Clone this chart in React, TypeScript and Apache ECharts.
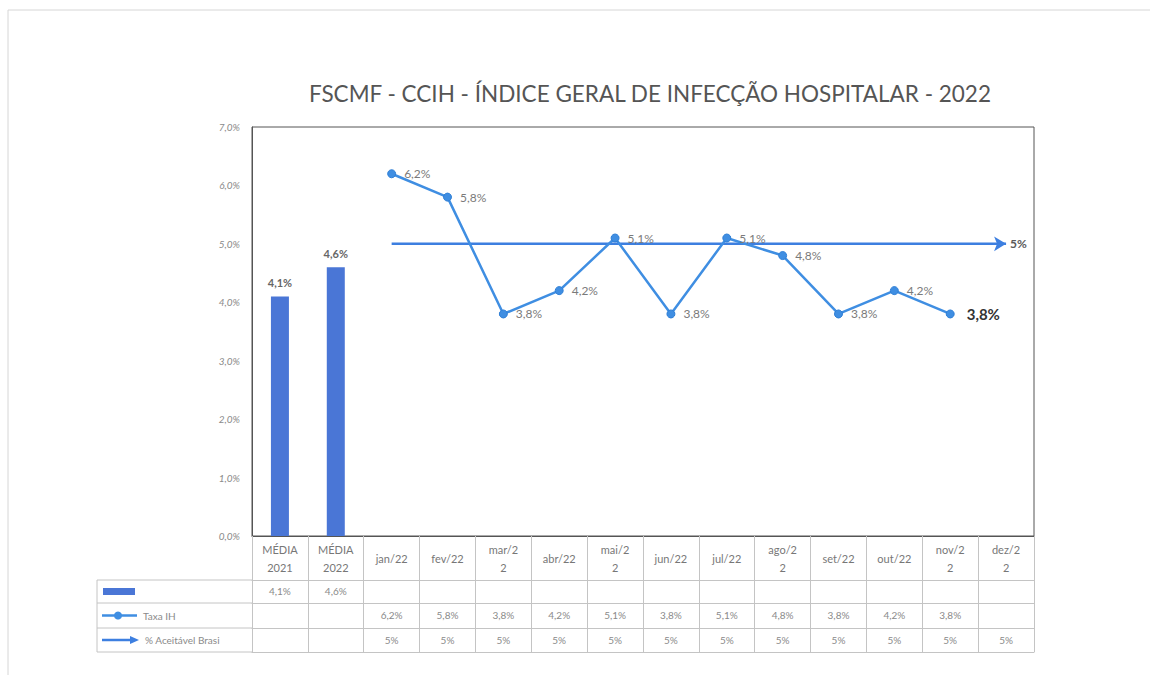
import React, { useEffect, useRef } from "react";
import * as echarts from "echarts";

const TITLE = "FSCMF - CCIH - ÍNDICE GERAL DE INFECÇÃO HOSPITALAR - 2022";
const categories = [
  "MÉDIA\n2021", "MÉDIA\n2022", "jan/22", "fev/22", "mar/2\n2", "abr/22", "mai/2\n2",
  "jun/22", "jul/22", "ago/2\n2", "set/22", "out/22", "nov/2\n2", "dez/2\n2",
];
const mediaValues: (number | null)[] = [4.1, 4.6, null, null, null, null, null, null, null, null, null, null, null, null];
const taxaIH: (number | null)[] = [null, null, 6.2, 5.8, 3.8, 4.2, 5.1, 3.8, 5.1, 4.8, 3.8, 4.2, 3.8, null];
const aceitavel: (number | null)[] = [null, null, 5, 5, 5, 5, 5, 5, 5, 5, 5, 5, 5, 5];
const yTicks = [0, 1, 2, 3, 4, 5, 6, 7];
const seriesNames = ["", "Taxa IH", "% Aceitável Brasi"];

const fmt1 = (v: number) => v.toFixed(1).replace(".", ",") + "%";
const fmt0 = (v: number) => String(v).replace(".", ",") + "%";

const G = { left: 252, top: 127, width: 782, height: 409 };
const ROW = { header: 44, r1: 23, r2: 25, r3: 24 };
const FONT = "Lato, 'Open Sans', sans-serif";
const BAR = "#4a76d6";
const LINE1 = "#3f8ee2";
const LINE2 = "#3d7fe0";
const GRIDC = "#c4c4c4";

export default function App() {
  const ref = useRef<HTMLDivElement>(null);
  useEffect(() => {
    const chart = echarts.init(ref.current!, undefined, { renderer: "svg" });
    const bottom = G.top + G.height;
    const y1 = bottom + ROW.header;
    const y2 = y1 + ROW.r1;
    const y3 = y2 + ROW.r2;
    const y4 = y3 + ROW.r3;
    const tableH = y4 - bottom;
    const legL = 97;

    const rowAxis = (data: string[], offset: number, margin: number, show = true) => ({
      type: "category",
      data,
      position: "bottom",
      offset,
      boundaryGap: true,
      axisLine: { show: true, lineStyle: { color: GRIDC, width: 1 } },
      axisTick: { show: false },
      axisLabel: {
        show,
        interval: 0,
        margin,
        verticalAlign: "middle",
        fontSize: 10,
        color: "#8a8a8a",
        fontFamily: FONT,
      },
    });

    const mediaRow = mediaValues.map((v) => (v == null ? "" : fmt1(v)));
    const taxaRow = taxaIH.map((v) => (v == null ? "" : fmt1(v)));
    const aceRow = aceitavel.map((v) => (v == null ? "" : fmt0(v)));
    const emptyRow = categories.map(() => "");

    const aceData = aceitavel.map((v, i) => {
      if (i === aceitavel.length - 1 && v != null) {
        return {
          value: v,
          symbol: "arrow",
          symbolSize: [11, 12],
          symbolRotate: -90,
          label: {
            show: true,
            position: "right",
            distance: 4,
            formatter: (p: any) => fmt0(p.value),
            fontSize: 12,
            fontWeight: "bold",
            color: "#5a5a5a",
            fontFamily: FONT,
          },
        };
      }
      return v;
    });

    const lastTaxa = taxaIH.reduce((acc, v, i) => (v != null ? i : acc), -1);
    const taxaData = taxaIH.map((v, i) =>
      i === lastTaxa
        ? {
            value: v,
            label: {
              show: true,
              position: "right",
              distance: 12,
              fontSize: 15,
              fontWeight: "bold",
              color: "#333",
            },
          }
        : v
    );

    const option: any = {
      animation: false,
      backgroundColor: "#fff",
      textStyle: { fontFamily: FONT },
      title: {
        text: TITLE,
        left: 645,
        textAlign: "center",
        top: 77,
        textStyle: { fontSize: 22.5, fontWeight: "normal", color: "#555", fontFamily: FONT },
      },
      grid: {
        left: G.left,
        top: G.top,
        width: G.width,
        height: G.height,
        show: true,
        borderColor: "#555",
        borderWidth: 1,
        containLabel: false,
      },
      xAxis: [
        {
          type: "category",
          data: categories,
          position: "bottom",
          boundaryGap: true,
          axisLine: { show: true, lineStyle: { color: "#555" } },
          axisTick: { show: true, interval: 0, length: tableH, lineStyle: { color: GRIDC } },
          axisLabel: {
            interval: 0,
            margin: ROW.header / 2,
            verticalAlign: "middle",
            fontSize: 11,
            lineHeight: 18,
            color: "#777",
            fontFamily: FONT,
          },
        },
        rowAxis(mediaRow, ROW.header, 11),
        rowAxis(taxaRow, ROW.header + ROW.r1, 12),
        rowAxis(aceRow, ROW.header + ROW.r1 + ROW.r2, 12),
        rowAxis(emptyRow, tableH, 5, false),
      ],
      yAxis: {
        type: "value",
        min: yTicks[0],
        max: yTicks[yTicks.length - 1],
        interval: 1,
        axisLine: { show: true, lineStyle: { color: "#555" } },
        axisTick: { show: false },
        splitLine: { show: false },
        axisLabel: {
          margin: 12,
          fontSize: 10,
          fontStyle: "italic",
          color: "#8a8a8a",
          fontFamily: FONT,
          formatter: (v: number) => fmt1(v),
        },
      },
      series: [
        {
          name: seriesNames[0],
          type: "bar",
          data: mediaValues,
          barWidth: 18,
          itemStyle: { color: BAR },
          label: {
            show: true,
            position: "top",
            distance: 8,
            formatter: (p: any) => fmt1(p.value),
            fontSize: 11,
            fontWeight: "bold",
            color: "#666",
            fontFamily: FONT,
          },
        },
        {
          name: seriesNames[1],
          type: "line",
          data: taxaData,
          symbol: "circle",
          symbolSize: 8,
          lineStyle: { color: LINE1, width: 2.5 },
          itemStyle: { color: LINE1, borderColor: "#2f7fd6", borderWidth: 1 },
          label: {
            show: true,
            position: "right",
            distance: 8,
            formatter: (p: any) => fmt1(p.value),
            fontSize: 12,
            color: "#7a7a7a",
            fontFamily: FONT,
          },
          z: 4,
        },
        {
          name: seriesNames[2],
          type: "line",
          data: aceData,
          symbol: "none",
          lineStyle: { color: LINE2, width: 2.5 },
          itemStyle: { color: LINE2 },
          z: 3,
        },
      ],
      graphic: [
        {
          type: "rect",
          shape: { x: 8, y: 10, width: 1200, height: 700 },
          style: { fill: "none", stroke: "#d6d6d6", lineWidth: 1 },
          silent: true,
        },
        ...[y1, y2, y3, y4].map((y) => ({
          type: "line",
          shape: { x1: legL, y1: y, x2: G.left, y2: y },
          style: { stroke: GRIDC, lineWidth: 1 },
        })),
        {
          type: "line",
          shape: { x1: legL, y1: y1, x2: legL, y2: y4 },
          style: { stroke: GRIDC, lineWidth: 1 },
        },
        {
          type: "rect",
          shape: { x: legL + 6, y: (y1 + y2) / 2 - 3.5, width: 32, height: 7 },
          style: { fill: BAR },
        },
        {
          type: "line",
          shape: { x1: legL + 5, y1: (y2 + y3) / 2, x2: legL + 40, y2: (y2 + y3) / 2 },
          style: { stroke: LINE1, lineWidth: 2.5 },
        },
        {
          type: "circle",
          shape: { cx: legL + 21, cy: (y2 + y3) / 2, r: 4 },
          style: { fill: LINE1 },
        },
        {
          type: "text",
          x: legL + 46,
          y: (y2 + y3) / 2,
          style: {
            text: seriesNames[1],
            fontSize: 10,
            fill: "#8a8a8a",
            fontFamily: FONT,
            verticalAlign: "middle",
          },
        },
        {
          type: "line",
          shape: { x1: legL + 5, y1: (y3 + y4) / 2, x2: legL + 36, y2: (y3 + y4) / 2 },
          style: { stroke: LINE2, lineWidth: 2.5 },
        },
        {
          type: "polygon",
          shape: {
            points: [
              [legL + 33, (y3 + y4) / 2 - 4],
              [legL + 42, (y3 + y4) / 2],
              [legL + 33, (y3 + y4) / 2 + 4],
            ],
          },
          style: { fill: LINE2 },
        },
        {
          type: "text",
          x: legL + 48,
          y: (y3 + y4) / 2,
          style: {
            text: seriesNames[2],
            fontSize: 10,
            fill: "#8a8a8a",
            fontFamily: FONT,
            verticalAlign: "middle",
          },
        },
      ],
    };
    chart.setOption(option);
    return () => chart.dispose();
  }, []);
  return (
    <div
      ref={ref}
      style={{ position: "fixed", left: 0, top: 0, width: 1150, height: 675, background: "#fff" }}
    />
  );
}
